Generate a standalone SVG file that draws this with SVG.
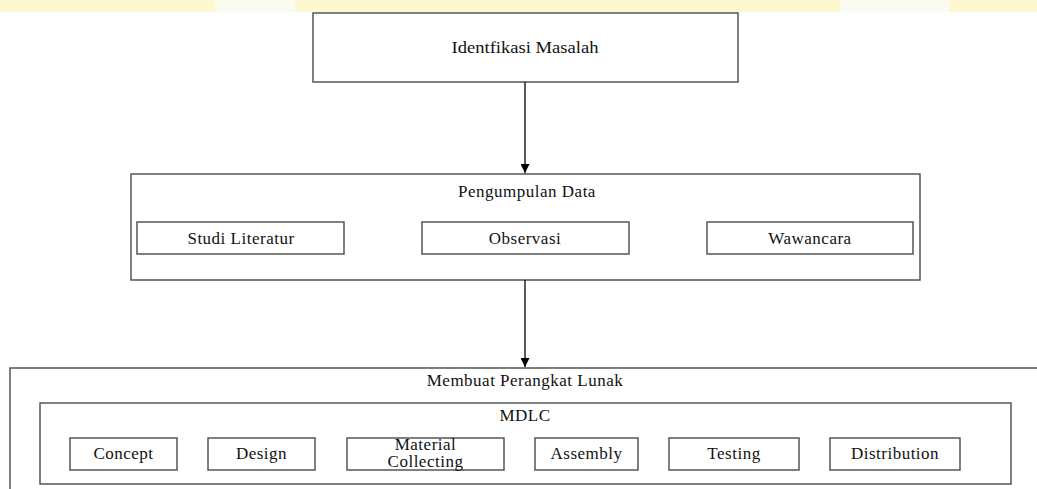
<svg xmlns="http://www.w3.org/2000/svg" width="1037" height="489" viewBox="0 0 1037 489">
<style>
.box{fill:#fff;stroke:#555;stroke-width:1.5}
.t{font-family:"Liberation Serif","Times New Roman",serif;font-size:17px;letter-spacing:0.5px;fill:#111;text-anchor:middle}
.conn{stroke:#000;stroke-width:1.3;fill:none}
</style>
<defs>
<marker id="arr" viewBox="0 0 10 10" refX="10" refY="5" markerWidth="9" markerHeight="9" markerUnits="userSpaceOnUse" orient="auto">
<path d="M0,0 L10,5 L0,10 z" fill="#000"/>
</marker>
</defs>
<rect x="0" y="0" width="1037" height="489" fill="#fff"/>
<rect x="0" y="0" width="1037" height="12" fill="#fdf8cf"/>
<rect x="215" y="0" width="80" height="12" fill="#fbfbf2"/>
<rect x="840" y="0" width="110" height="12" fill="#fbfbf2"/>
<g id="identifikasi">
<rect class="box" x="313" y="13" width="425" height="69"/>
<text class="t" x="525" y="53" textLength="147" lengthAdjust="spacingAndGlyphs" style="letter-spacing:0">Identfikasi Masalah</text>
</g>
<g id="pengumpulan">
<rect class="box" x="131" y="174" width="789" height="106"/>
<text class="t" x="527" y="197">Pengumpulan Data</text>
</g>
<g id="studi">
<rect class="box" x="137" y="222" width="207" height="32"/>
<text class="t" x="241" y="244">Studi Literatur</text>
</g>
<g id="observasi">
<rect class="box" x="422" y="222" width="207" height="32"/>
<text class="t" x="525" y="244">Observasi</text>
</g>
<g id="wawancara">
<rect class="box" x="707" y="222" width="206" height="32"/>
<text class="t" x="810" y="244">Wawancara</text>
</g>
<g id="membuat">
<rect class="box" x="10" y="368" width="1040" height="130"/>
<text class="t" x="525" y="386">Membuat Perangkat Lunak</text>
</g>
<g id="mdlc">
<rect class="box" x="40" y="403" width="971" height="81"/>
<text class="t" x="525" y="421">MDLC</text>
</g>
<g id="concept">
<rect class="box" x="70" y="438" width="107" height="32"/>
<text class="t" x="123.5" y="459">Concept</text>
</g>
<g id="design">
<rect class="box" x="208" y="438" width="107" height="32"/>
<text class="t" x="261.5" y="459">Design</text>
</g>
<g id="material">
<rect class="box" x="347" y="438" width="157" height="32"/>
<text class="t" x="425.5" y="450">Material</text>
<text class="t" x="425.5" y="467">Collecting</text>
</g>
<g id="assembly">
<rect class="box" x="535" y="438" width="103" height="32"/>
<text class="t" x="586.5" y="459">Assembly</text>
</g>
<g id="testing">
<rect class="box" x="669" y="438" width="130" height="32"/>
<text class="t" x="734" y="459">Testing</text>
</g>
<g id="distribution">
<rect class="box" x="830" y="438" width="130" height="32"/>
<text class="t" x="895" y="459">Distribution</text>
</g>
<g id="connectors">
<line class="conn" x1="525" y1="82" x2="525" y2="173" marker-end="url(#arr)"/>
<line class="conn" x1="525" y1="280" x2="525" y2="367" marker-end="url(#arr)"/>
</g>
</svg>
